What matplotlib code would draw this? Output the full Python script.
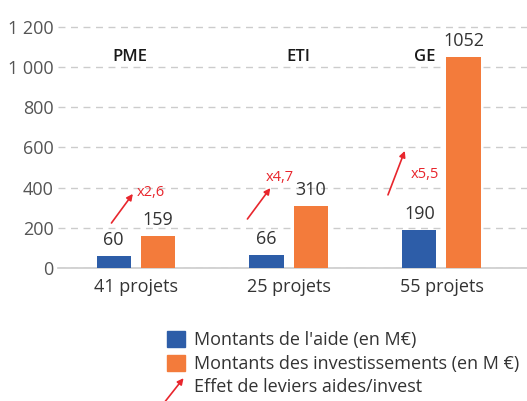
import matplotlib.pyplot as plt
import numpy as np
from matplotlib.patches import Patch, FancyArrowPatch
from matplotlib.legend_handler import HandlerBase
from matplotlib.ticker import FuncFormatter

# donnees
groupes = ["PME", "ETI", "GE"]
projets = ["41 projets", "25 projets", "55 projets"]
aide = [60, 66, 190]
invest = [159, 310, 1052]
leviers = ["x2,6", "x4,7", "x5,5"]

# positions des fleches (debut, fin) et du texte, en coordonnees des donnees
fleche_debut = [(-0.16, 224), (0.73, 244), (1.65, 364)]
fleche_fin = [(-0.02, 369), (0.88, 398), (1.76, 583)]
texte_levier = [(0.10, 378), (0.94, 450), (1.89, 468)]
pos_groupe = [-0.04, 1.06, 1.89]

BLEU = "#2D5DA8"
ORANGE = "#F37B3B"
ROUGE = "#E8262D"
GRIS = "#555555"

plt.rcParams['font.family'] = ['Open Sans', 'DejaVu Sans']


class HandlerFleche(HandlerBase):
    def create_artists(self, legend, orig_handle, xdescent, ydescent,
                       width, height, fontsize, trans):
        a = FancyArrowPatch((-0.2 * width, -0.7 * height), (width, height),
                            arrowstyle='-|>', mutation_scale=9,
                            color=ROUGE, lw=1.2, transform=trans)
        return [a]


fig = plt.figure(figsize=(5.27, 4.01), dpi=100)
ax = fig.add_axes([0.110, 0.3317, 0.890, 0.621])

x = np.arange(len(groupes))
w = 0.225
ax.bar(x - 0.145, aide, w, color=BLEU, zorder=3)
ax.bar(x + 0.145, invest, w, color=ORANGE, zorder=3)

for i in range(len(x)):
    ax.annotate(str(aide[i]), (x[i] - 0.145, aide[i]), xytext=(0, 5),
                textcoords='offset points', ha='center', va='bottom',
                fontsize=13, color="#333333")
    ax.annotate(str(invest[i]), (x[i] + 0.145, invest[i]), xytext=(0, 5),
                textcoords='offset points', ha='center', va='bottom',
                fontsize=13, color="#333333")
    ax.text(pos_groupe[i], 1051, groupes[i], ha='center', va='center',
            fontsize=12, color="#1a1a1a", fontweight='semibold')
    ax.annotate("", xy=fleche_fin[i], xytext=fleche_debut[i],
                arrowprops=dict(arrowstyle='-|>', color=ROUGE, lw=1.2,
                                mutation_scale=9, shrinkA=0, shrinkB=0))
    ax.text(texte_levier[i][0], texte_levier[i][1], leviers[i], color=ROUGE,
            fontsize=10.5, ha='center', va='center')

ax.set_xlim(-0.51, 2.56)
ax.set_ylim(0, 1240)
ax.set_yticks(range(0, 1201, 200))
ax.yaxis.set_major_formatter(FuncFormatter(lambda v, p: f"{int(v):,}".replace(",", " ")))
ax.set_xticks(x)
ax.set_xticklabels(projets)
ax.tick_params(axis='both', length=0, labelsize=13, labelcolor=GRIS)
ax.tick_params(axis='x', pad=7, labelcolor="#333333")
ax.tick_params(axis='y', pad=3)
ax.grid(axis='y', linestyle=(0, (5, 4)), color="#cccccc", lw=1, zorder=0)
for s in ['top', 'right', 'left']:
    ax.spines[s].set_visible(False)
ax.spines['bottom'].set_color("#cccccc")
ax.spines['bottom'].set_linewidth(1.2)

handles = [Patch(color=BLEU), Patch(color=ORANGE), "fleche"]
labels = ["Montants de l'aide (en M€)", "Montants des investissements (en M €)",
          "Effet de leviers aides/invest"]
fig.legend(handles, labels, handler_map={str: HandlerFleche()},
           loc='upper left', bbox_to_anchor=(160 / 527, 1 - 324 / 401),
           frameon=False, fontsize=13, labelcolor="#333333",
           handlelength=1.0, handleheight=1.0, handletextpad=0.5,
           labelspacing=0.28, borderaxespad=0)

fig.savefig("out.png", dpi=100)
